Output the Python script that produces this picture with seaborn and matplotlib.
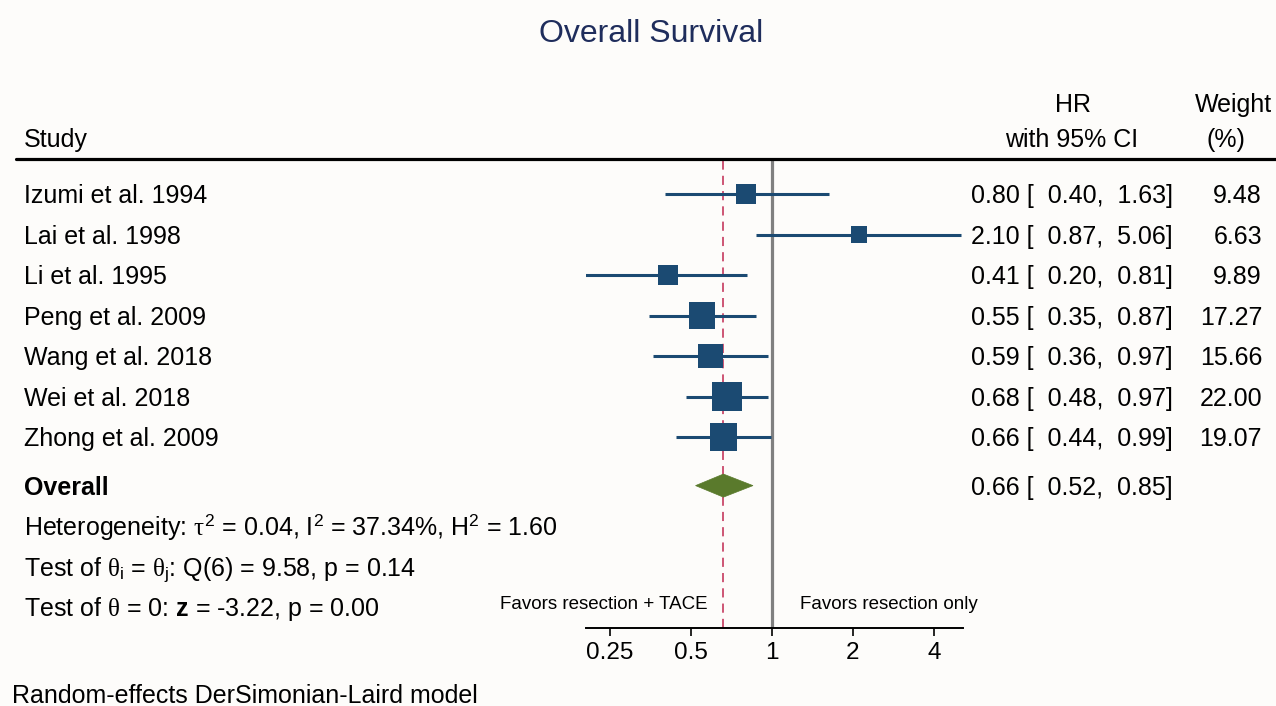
import numpy as np
import pandas as pd
import matplotlib
matplotlib.use("Agg")
import matplotlib.pyplot as plt
import matplotlib.transforms as mtransforms
from matplotlib.patches import Polygon
from matplotlib.lines import Line2D
import seaborn as sns

# ---------------- data ----------------
studies = ["Izumi et al. 1994", "Lai et al. 1998", "Li et al. 1995", "Peng et al. 2009",
           "Wang et al. 2018", "Wei et al. 2018", "Zhong et al. 2009"]
hr = [0.80, 2.10, 0.41, 0.55, 0.59, 0.68, 0.66]
ci_low = [0.40, 0.87, 0.20, 0.35, 0.36, 0.48, 0.44]
ci_high = [1.63, 5.06, 0.81, 0.87, 0.97, 0.97, 0.99]
weights = [9.48, 6.63, 9.89, 17.27, 15.66, 22.00, 19.07]
overall_hr = 0.66
overall_low = 0.52
overall_high = 0.85
tick_values = [0.25, 0.5, 1, 2, 4]
tick_labels = ["0.25", "0.5", "1", "2", "4"]

W, H = 1276, 706
BG = "#fdfcfa"
BLUE = "#1b4a72"
GREEN = "#5a7a2c"

sns.set_theme(style="white", rc={"figure.facecolor": BG, "axes.facecolor": BG,
                                 "savefig.facecolor": BG, "text.color": "black",
                                 "xtick.color": "black", "axes.labelcolor": "black"})
plt.rcParams["font.family"] = ["Liberation Sans", "DejaVu Sans"]
plt.rcParams["mathtext.fontset"] = "custom"
plt.rcParams["mathtext.rm"] = "Liberation Sans"
plt.rcParams["mathtext.it"] = "Liberation Serif"
plt.rcParams["mathtext.bf"] = "Liberation Sans:bold"

fig = plt.figure(figsize=(W / 100, H / 100), dpi=100)

def fx(px):
    return px / W

def fy(py):
    return 1 - py / H

ax = fig.add_axes([fx(586), fy(628), (963 - 586) / W, (628 - 160) / H])
ax.set_facecolor(BG)

rows = list(range(len(studies)))
overall_row = 7.2

df = pd.DataFrame({"study": studies, "hr": hr, "lo": ci_low, "hi": ci_high,
                   "w": weights, "row": rows})

# CI lines
ax.hlines(df["row"], df["lo"], df["hi"], color=BLUE, lw=2.2, zorder=3)
# squares (area proportional to weight)
k = (0.72 * 6.3) ** 2
sns.scatterplot(data=df, x="hr", y="row", size="w",
                sizes=(k * min(weights), k * max(weights)),
                size_norm=(min(weights), max(weights)),
                marker="s", color=BLUE, edgecolor="none", legend=False,
                ax=ax, zorder=4)

# reference lines
ax.axvline(1, color="#808080", lw=2.3, zorder=2)
ax.axvline(overall_hr, color="#c02850", lw=1.1, dashes=(6, 4), zorder=1)

# overall diamond
dh = 0.285
diamond = Polygon([(overall_low, overall_row), (overall_hr, overall_row - dh),
                   (overall_high, overall_row), (overall_hr, overall_row + dh)],
                  closed=True, facecolor=GREEN, edgecolor=GREEN, lw=0.5, zorder=5)
ax.add_patch(diamond)

ax.set_xscale("log")
ax.set_xlim(0.2036, 5.13)
ax.set_ylim(10.716, -0.84)
ax.set_xticks(tick_values)
ax.set_xticklabels(tick_labels, fontsize=17.5)
ax.minorticks_off()
ax.set_yticks([])
ax.set_xlabel("")
ax.set_ylabel("")
for s in ["left", "top", "right"]:
    ax.spines[s].set_visible(False)
ax.spines["bottom"].set_linewidth(1.4)
ax.spines["bottom"].set_color("black")
ax.tick_params(axis="x", direction="out", length=6, width=1.2, color="black",
               labelcolor="black", pad=4, bottom=True)

# ---------------- text ----------------
base = mtransforms.blended_transform_factory(fig.transFigure, ax.transData)
tr = base + mtransforms.ScaledTranslation(0, -9 / 100, fig.dpi_scale_trans)
FS = 18

for i, s in enumerate(studies):
    fig.text(fx(24), rows[i], s, transform=tr, fontsize=FS, va="baseline", ha="left")
    fig.text(fx(971), rows[i], f"{hr[i]:.2f} [  {ci_low[i]:.2f},  {ci_high[i]:.2f}]",
             transform=tr, fontsize=FS, va="baseline", ha="left")
    fig.text(fx(1262), rows[i], f"{weights[i]:.2f}", transform=tr, fontsize=FS,
             va="baseline", ha="right")

fig.text(fx(24), overall_row, "Overall", transform=tr, fontsize=FS, fontweight="bold",
         va="baseline", ha="left")
fig.text(fx(971), overall_row,
         f"{overall_hr:.2f} [  {overall_low:.2f},  {overall_high:.2f}]",
         transform=tr, fontsize=FS, va="baseline", ha="left")

fig.text(fx(24), fy(535), r"Heterogeneity: $\tau^{2}$ = 0.04, $\mathrm{I}^{2}$ = 37.34%, $\mathrm{H}^{2}$ = 1.60",
         fontsize=FS, va="baseline", ha="left")
fig.text(fx(24), fy(576), r"Test of $\theta_{\mathrm{i}}$ = $\theta_{\mathrm{j}}$: Q(6) = 9.58, p = 0.14",
         fontsize=FS, va="baseline", ha="left")
fig.text(fx(24), fy(616), r"Test of $\theta$ = 0: $\mathbf{z}$ = -3.22, p = 0.00",
         fontsize=FS, va="baseline", ha="left")

fig.text(fx(500), fy(609), "Favors resection + TACE", fontsize=13.5, va="baseline", ha="left")
fig.text(fx(800), fy(609), "Favors resection only", fontsize=13.5, va="baseline", ha="left")

# headers
fig.text(fx(24), fy(147), "Study", fontsize=FS, va="baseline", ha="left")
fig.text(fx(1073), fy(112), "HR", fontsize=FS, va="baseline", ha="center")
fig.text(fx(1072), fy(147), "with 95% CI", fontsize=FS, va="baseline", ha="center")
fig.text(fx(1233), fy(112), "Weight", fontsize=FS, va="baseline", ha="center")
fig.text(fx(1226), fy(147), "(%)", fontsize=FS, va="baseline", ha="center")

fig.add_artist(Line2D([fx(16), 1.0], [fy(159), fy(159)], transform=fig.transFigure,
                      color="black", lw=2.3))

fig.text(fx(651), fy(42), "Overall Survival", fontsize=23, color="#1f2d5c",
         va="baseline", ha="center")
fig.text(fx(12), fy(703), "Random-effects DerSimonian-Laird model", fontsize=FS,
         va="baseline", ha="left")

fig.savefig("out.png", dpi=100, facecolor=BG)
